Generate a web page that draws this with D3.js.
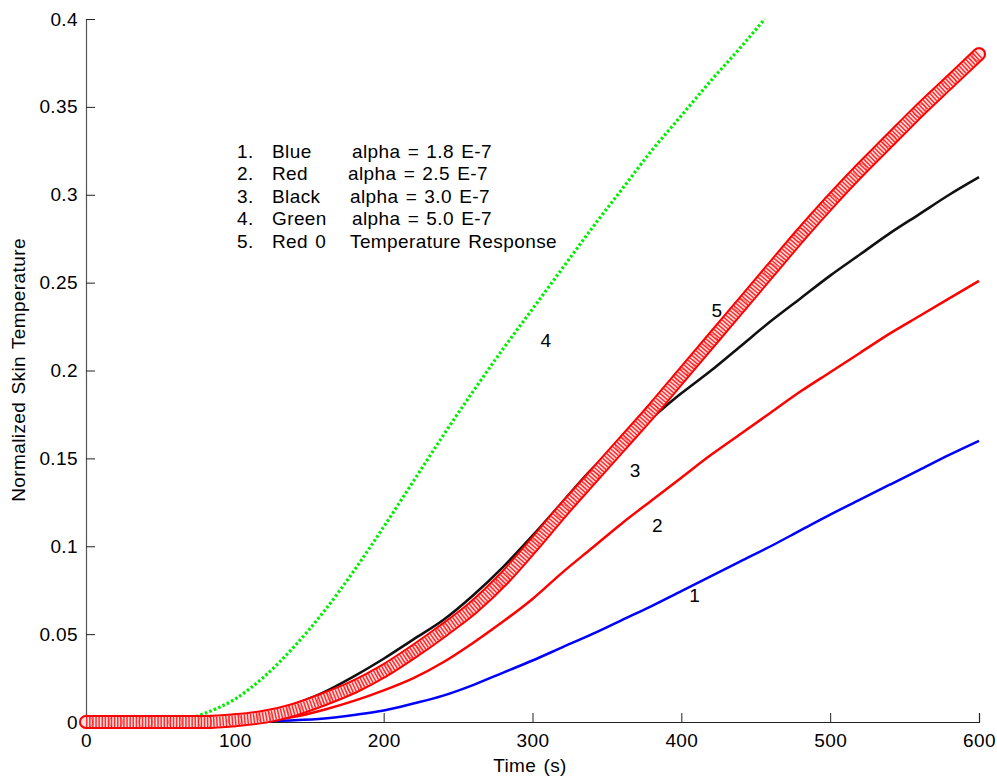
<!DOCTYPE html>
<html>
<head>
<meta charset="utf-8">
<script src="https://cdn.jsdelivr.net/npm/d3@7"></script>
<style>
  body { margin: 0; background: #fff; }
  text { font-family: Arial, "Liberation Sans", sans-serif; fill: #000; font-size: 19px; letter-spacing: 0.4px; word-spacing: 1.5px; }
</style>
</head>
<body>
<div id="chart"></div>
<script>
// time axis (s) of the sampled curves
const timeSec = [0, 20, 40, 60, 80, 100, 120, 140, 160, 180, 200, 220, 240, 260, 280, 300,
                 320, 340, 360, 380, 400, 420, 440, 460, 480, 500, 520, 540, 560, 580, 600];
// green run stops once it leaves the top of the plot
const timeSecGreen = [0, 20, 40, 60, 80, 100, 120, 140, 160, 180, 200, 220, 240, 260, 280, 300,
                      320, 340, 360, 380, 400, 420, 440, 456];

// 1. Blue  alpha = 1.8 E-7
const blueValues = [0, 0, 0, 0, 0, 0, 0.0005, 0.001, 0.002, 0.004, 0.0065, 0.0105, 0.015, 0.021, 0.028, 0.035,
                    0.0425, 0.05, 0.058, 0.066, 0.0745, 0.083, 0.0915, 0.1, 0.109, 0.118, 0.1265, 0.135, 0.1435, 0.152, 0.16];
// 2. Red  alpha = 2.5 E-7
const redValues = [0, 0, 0, 0, 0, 0, 0.001, 0.003, 0.007, 0.012, 0.018, 0.025, 0.034, 0.045, 0.057, 0.07,
                   0.085, 0.099, 0.113, 0.126, 0.139, 0.152, 0.164, 0.176, 0.188, 0.199, 0.21, 0.221, 0.231, 0.241, 0.251];
// 3. Black  alpha = 3.0 E-7
const blackValues = [0, 0, 0, 0, 0, 0.0005, 0.004, 0.01, 0.017, 0.026, 0.036, 0.047, 0.058, 0.072, 0.088, 0.106,
                     0.125, 0.144, 0.159, 0.173, 0.187, 0.2, 0.214, 0.228, 0.241, 0.254, 0.266, 0.278, 0.289, 0.3, 0.31];
// 4. Green  alpha = 5.0 E-7
const greenValues = [0, 0, 0, 0.0005, 0.005, 0.013, 0.026, 0.043, 0.063, 0.086, 0.111, 0.137, 0.163, 0.188, 0.212, 0.235,
                     0.258, 0.281, 0.303, 0.325, 0.345, 0.365, 0.384, 0.4];
// 5. Red 0  temperature response (measured)
const responseValues = [0, 0, 0, 0, 0, 0.001, 0.003, 0.007, 0.013, 0.02, 0.029, 0.04, 0.052, 0.065, 0.081, 0.1,
                        0.12, 0.139, 0.158, 0.177, 0.197, 0.217, 0.237, 0.257, 0.277, 0.296, 0.314, 0.331, 0.348, 0.364, 0.38];

const xTicks = [0, 100, 200, 300, 400, 500, 600];
const yTicks = [0, 0.05, 0.1, 0.15, 0.2, 0.25, 0.3, 0.35, 0.4];

const legendNums  = ["1.", "2.", "3.", "4.", "5."];
const legendNames = ["Blue", "Red", "Black", "Green", "Red 0"];
const legendTexts = ["alpha = 1.8 E-7", "alpha = 2.5 E-7", "alpha = 3.0 E-7", "alpha = 5.0 E-7", "Temperature Response"];

// curve numbers written next to the curves (t, value)
const curveLabels = [
  { text: "4", t: 309, v: 0.217 },
  { text: "5", t: 424, v: 0.234 },
  { text: "3", t: 369, v: 0.143 },
  { text: "2", t: 384, v: 0.112 },
  { text: "1", t: 409, v: 0.072 }
];

(function () {
  const W = 997, H = 778;
  const mLeft = 86, mRight = 979, mTop = 19, mBottom = 722;

  const svg = d3.select("#chart").append("svg")
    .attr("width", W).attr("height", H)
    .style("display", "block");
  svg.append("rect").attr("width", W).attr("height", H).attr("fill", "#fff");

  const x = d3.scaleLinear().domain([0, 600]).range([mLeft, mRight]);
  const y = d3.scaleLinear().domain([0, 0.4]).range([mBottom, mTop]);

  const line = d3.line()
    .x(d => x(d.t))
    .y(d => y(d.v))
    .curve(d3.curveMonotoneX);

  const zipT = (ts, vs) => ts.map((t, i) => ({ t: t, v: vs[i] }));

  // axes
  const xAxis = svg.append("g")
    .attr("transform", `translate(0,${mBottom})`)
    .call(d3.axisBottom(x).tickValues(xTicks).tickSize(-9).tickPadding(12).tickFormat(d3.format("d")));
  const yAxis = svg.append("g")
    .attr("transform", `translate(${mLeft},0)`)
    .call(d3.axisLeft(y).tickValues(yTicks).tickSize(-9).tickPadding(8).tickFormat(d => d === 0 ? "0" : String(d)));

  [xAxis, yAxis].forEach(g => {
    g.attr("font-size", null).attr("font-family", null);
    g.select(".domain").attr("stroke", "#222").attr("stroke-width", 1.2);
    g.selectAll(".tick line").attr("stroke", "#222");
    g.selectAll(".tick text").attr("fill", "#000");
  });
  yAxis.select(".domain").attr("stroke", "#555");

  const plot = svg.append("g");

  // simulated curves 1-3 (dense marker trails)
  plot.append("path").datum(zipT(timeSec, blueValues))
    .attr("d", line).attr("fill", "none").attr("stroke", "#0000ff").attr("stroke-width", 2.5);
  plot.append("path").datum(zipT(timeSec, redValues))
    .attr("d", line).attr("fill", "none").attr("stroke", "#ff0000").attr("stroke-width", 2.5);
  plot.append("path").datum(zipT(timeSec, blackValues))
    .attr("d", line).attr("fill", "none").attr("stroke", "#111").attr("stroke-width", 2.6);
  // green: star markers look like a dotted trail
  plot.append("path").datum(zipT(timeSecGreen, greenValues))
    .attr("d", line).attr("fill", "none").attr("stroke", "#00ee00").attr("stroke-width", 3.2)
    .attr("stroke-dasharray", "2.6 2.2");

  // measured response: tube of overlapping open circles
  const resp = zipT(timeSec, responseValues);
  plot.append("path").datum(resp)
    .attr("d", line).attr("fill", "none").attr("stroke", "#ff0000").attr("stroke-width", 14)
    .attr("stroke-linecap", "round");
  plot.append("path").datum(resp)
    .attr("d", line).attr("fill", "none").attr("stroke", "#ffe0e0").attr("stroke-width", 10)
    .attr("stroke-linecap", "round");
  plot.append("path").datum(resp)
    .attr("d", line).attr("fill", "none").attr("stroke", "#ff0000").attr("stroke-width", 10)
    .attr("stroke-dasharray", "1.5 1.6").attr("opacity", 0.8);
  plot.selectAll("circle.resp").data(resp).enter().append("circle")
    .attr("class", "resp")
    .attr("cx", d => x(d.t)).attr("cy", d => y(d.v)).attr("r", 6.6)
    .attr("fill", "none").attr("stroke", "#ff0000").attr("stroke-width", 1)
    .attr("stroke-opacity", 0.55);

  // curve numbers
  svg.selectAll("text.cl").data(curveLabels).enter().append("text")
    .attr("class", "cl")
    .attr("x", d => x(d.t)).attr("y", d => y(d.v))
    .attr("text-anchor", "middle").attr("dominant-baseline", "central")
    .text(d => d.text);

  // legend block
  const legendX = [237, 272];
  const legendTextX = [352, 348, 350, 352, 350];
  const legendY0 = 151, legendDy = 22.5;
  const lg = svg.append("g");
  legendNums.forEach((n, i) => {
    const yy = legendY0 + i * legendDy;
    lg.append("text").attr("x", legendX[0]).attr("y", yy).attr("dominant-baseline", "central").text(n);
    lg.append("text").attr("x", legendX[1]).attr("y", yy).attr("dominant-baseline", "central").text(legendNames[i]);
    lg.append("text").attr("x", legendTextX[i]).attr("y", yy).attr("dominant-baseline", "central").text(legendTexts[i]);
  });

  // axis titles
  svg.append("text")
    .attr("x", 530).attr("y", 765)
    .attr("text-anchor", "middle").attr("dominant-baseline", "central")
    .text("Time (s)");
  svg.append("text")
    .attr("transform", `translate(18,370) rotate(-90)`)
    .attr("text-anchor", "middle").attr("dominant-baseline", "central")
    .text("Normalized Skin Temperature");
})();
</script>
</body>
</html>
